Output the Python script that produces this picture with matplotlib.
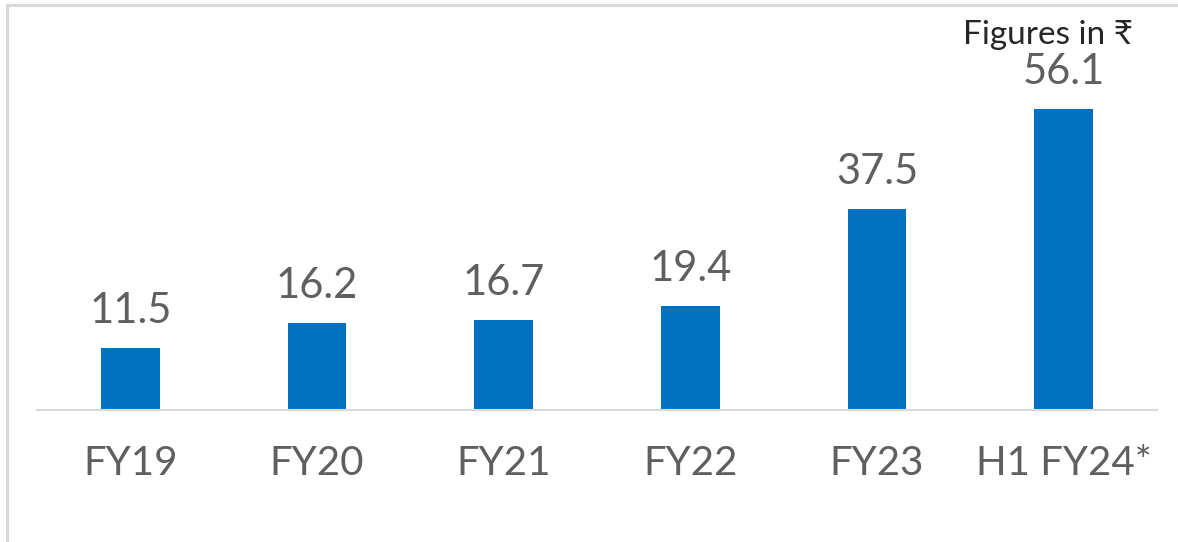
import matplotlib.pyplot as plt
from matplotlib.lines import Line2D

plt.rcParams['font.family'] = ['Lato', 'DejaVu Sans']

periods = ['FY19', 'FY20', 'FY21', 'FY22', 'FY23', 'H1 FY24*']
values = [11.5, 16.2, 16.7, 19.4, 37.5, 56.1]
note = 'Figures in ₹'

W, H = 1178, 542
fig = plt.figure(figsize=(W / 100, H / 100), dpi=100)
# axes: x from 37px to 1157px, baseline at 410px, top at figure edge
ax = fig.add_axes([37 / W, (H - 410) / H, 1120 / W, 410 / H])

ax.bar(range(len(periods)), values, width=0.316, color='#0070C0', zorder=2)
ax.set_xlim(-0.5, len(periods) - 0.5)
ax.set_ylim(0, 410 / 5.365)

for i, v in enumerate(values):
    ax.annotate(f'{v}', (i, v), xytext=(0, 13), textcoords='offset points',
                ha='center', va='bottom', fontsize=30, color='#5f5f5f')

ax.set_xticks(range(len(periods)))
ax.set_xticklabels(periods, fontsize=29, color='#5f5f5f')
ax.tick_params(axis='x', length=0, pad=25)
ax.set_yticks([])
for s in ['top', 'right', 'left']:
    ax.spines[s].set_visible(False)
ax.spines['bottom'].set_color('#d9d9d9')
ax.spines['bottom'].set_linewidth(1.5)

fig.text(1133 / W, 1 - 35 / H, note, ha='right', va='center', fontsize=24,
         color='#262626')

# outer frame (only top and left edges visible in the crop)
fig.add_artist(Line2D([7 / W, 7 / W], [0, 1 - 5 / H], transform=fig.transFigure,
                      color='#d9d9d9', lw=2.2))
fig.add_artist(Line2D([7 / W, 1], [1 - 5 / H, 1 - 5 / H], transform=fig.transFigure,
                      color='#d9d9d9', lw=2.2))

fig.savefig('out.png', dpi=100)
